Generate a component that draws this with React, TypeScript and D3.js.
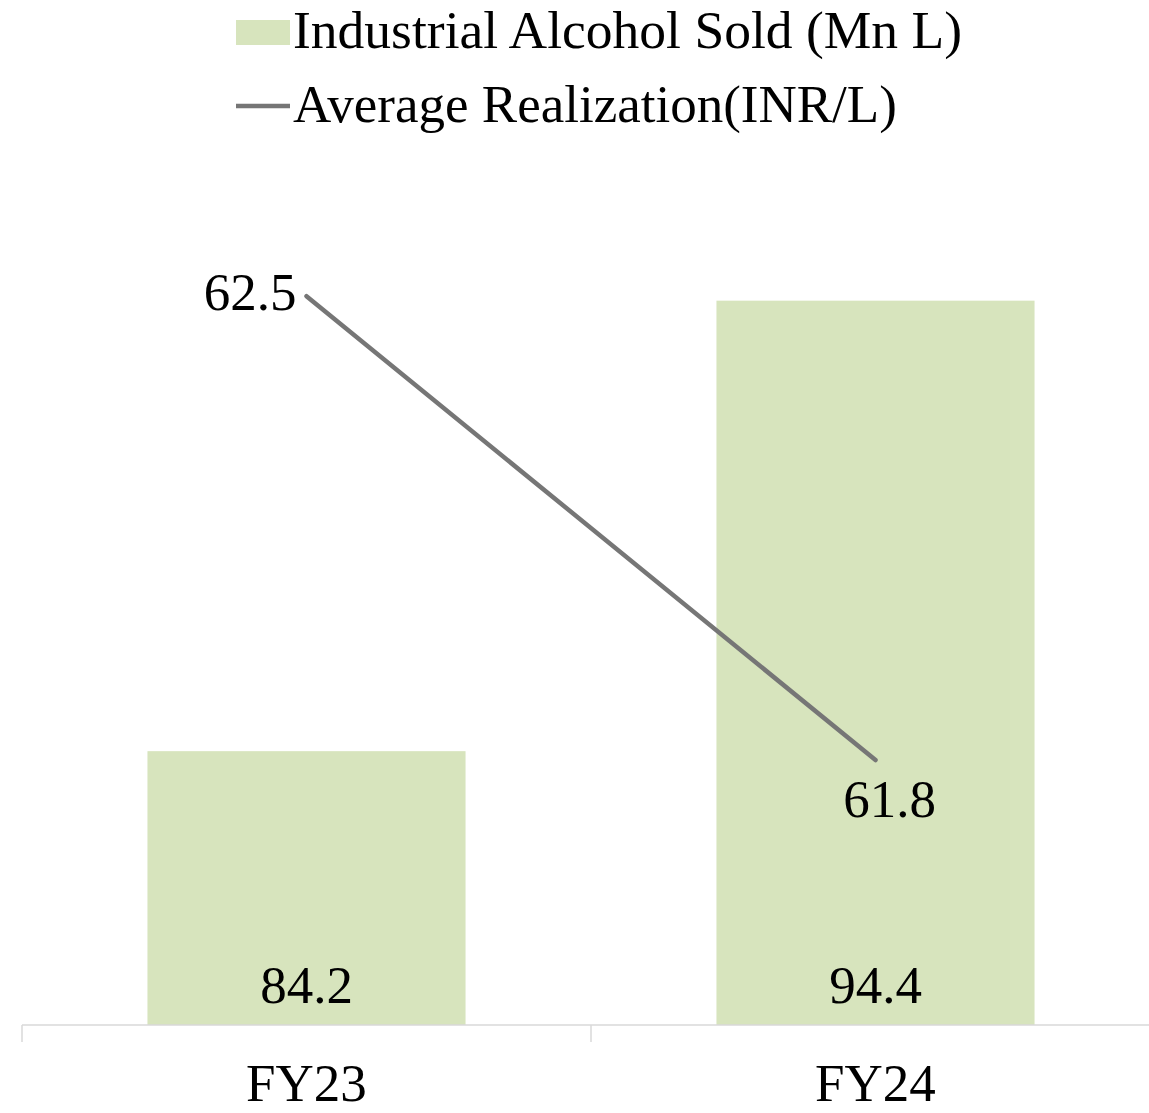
import React from "react";
import * as d3 from "d3";

const categories = ["FY23", "FY24"];
const alcoholSold = [84.2, 94.4];
const avgRealization = [62.5, 61.8];
const seriesNames = ["Industrial Alcohol Sold (Mn L)", "Average Realization(INR/L)"];

const W = 1149;
const H = 1113;
const font = "'Liberation Serif', 'Times New Roman', serif";
const fs = 53;

export default function App() {
  const top = 230;
  const base = 1025;

  const x = d3.scaleBand<string>()
    .domain(categories)
    .range([22, 1160])
    .paddingInner(0.441)
    .paddingOuter(0.2205);

  const yBar = d3.scaleLinear().domain([78, 96]).range([base, top]);
  const yLine = d3.scaleLinear().domain([61.4, 62.6]).range([base, top]);

  const cx = (c: string) => (x(c) as number) + x.bandwidth() / 2;

  const line = d3.line<number>()
    .x((_, i) => cx(categories[i]))
    .y(d => yLine(d));

  return (
    <svg width={W} height={H} style={{ position: "absolute", left: 0, top: 0 }}>
      <rect width={W} height={H} fill="#fff" />
      {/* legend */}
      <rect x={236} y={20} width={54} height={25} fill="#d7e4bd" />
      <text x={293} y={48} fontFamily={font} fontSize={fs} textLength={669} lengthAdjust="spacingAndGlyphs">{seriesNames[0]}</text>
      <line x1={236} x2={290} y1={106} y2={106} stroke="#767676" strokeWidth={4.5} />
      <text x={293} y={122} fontFamily={font} fontSize={fs}>{seriesNames[1]}</text>

      {/* bars */}
      {categories.map((c, i) => (
        <rect key={c} x={x(c)} y={yBar(alcoholSold[i])} width={x.bandwidth()}
          height={base - yBar(alcoholSold[i])} fill="#d7e4bd" />
      ))}

      {/* axis */}
      <line x1={22} x2={W} y1={base} y2={base} stroke="#d9d9d9" strokeWidth={1.5} />
      {[22, 591].map(t => (
        <line key={t} x1={t} x2={t} y1={base} y2={base + 17} stroke="#d9d9d9" strokeWidth={1.5} />
      ))}
      {categories.map(c => (
        <text key={c} x={cx(c)} y={1101} textAnchor="middle" fontFamily={font} fontSize={fs}>{c}</text>
      ))}

      {/* bar labels */}
      {categories.map((c, i) => (
        <text key={c} x={cx(c)} y={1003} textAnchor="middle" fontFamily={font} fontSize={fs}>
          {alcoholSold[i].toFixed(1)}
        </text>
      ))}

      {/* line */}
      <path d={line(avgRealization) || ""} fill="none" stroke="#767676" strokeWidth={4.5} strokeLinecap="round" />
      <text x={cx(categories[0]) - 10} y={310} textAnchor="end" fontFamily={font} fontSize={fs}>
        {avgRealization[0].toFixed(1)}
      </text>
      <text x={cx(categories[1]) + 14} y={817} textAnchor="middle" fontFamily={font} fontSize={fs}>
        {avgRealization[1].toFixed(1)}
      </text>
    </svg>
  );
}
